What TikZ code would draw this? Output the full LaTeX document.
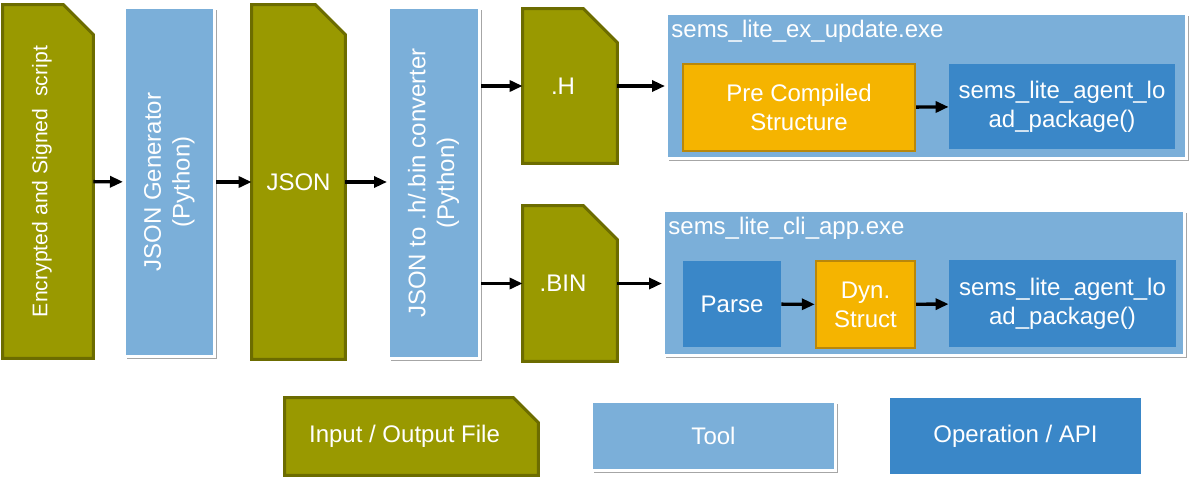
\documentclass[tikz,border=0pt]{standalone}
\usepackage{fontspec}
\setmainfont{Liberation Sans}
\usetikzlibrary{arrows.meta,shadows,backgrounds}
\definecolor{fileolive}{RGB}{153,153,0}
\definecolor{fileedge}{RGB}{108,108,0}
\definecolor{toolblue}{RGB}{123,175,217}
\definecolor{opblue}{RGB}{58,135,200}
\definecolor{structorange}{RGB}{245,180,0}
\definecolor{structedge}{RGB}{185,135,10}
\begin{document}
\begin{tikzpicture}[x=0.5pt, y=-0.5pt,
	txt/.style={text=white, font=\fontsize{12}{14.4}\selectfont, inner sep=0pt},
	file/.style={txt},
	tool/.style={txt, align=center, fill=toolblue, draw=white, line width=1.5pt, drop shadow={shadow xshift=1pt, shadow yshift=-1.2pt, opacity=0.35, fill=black}},
	op/.style={txt, align=center, fill=opblue},
	struct/.style={txt, align=center, fill=structorange, draw=structedge, line width=1.2pt},
	flow/.style={-{Triangle[length=6.5pt,width=5.5pt]}, line width=1.7pt}]
	\useasboundingbox (0,0) rectangle (1198,483);
	% files and tools
	\node[file, minimum width=45pt, minimum height=176.5pt, font=\fontsize{10.6}{12.5}\selectfont] (enc) at (48,181.5) {\rotatebox{90}{Encrypted and Signed\ \ script}\kern6pt};
	\node[tool, minimum width=45pt, minimum height=174.5pt] (gen) at (169.5,182) {\rotatebox{90}{\begin{tabular}{@{}c@{}}JSON Generator\\(Python)\end{tabular}}};
	\node[file, minimum width=46.5pt, minimum height=177pt] (json) at (298.5,182) {JSON};
	\node[tool, minimum width=45.5pt, minimum height=175.5pt] (conv) at (434,183) {\rotatebox{90}{\begin{tabular}{@{}c@{}}JSON to .h/.bin converter\\(Python)\end{tabular}}};
	\node[file, minimum width=47pt, minimum height=77pt] (hfile) at (570,86) {.H\kern7pt};
	\node[file, minimum width=47pt, minimum height=77.5pt] (binfile) at (570,283.5) {.BIN\kern7pt};
	% executables
	\node[tool, minimum width=260pt, minimum height=72.5pt] (box1) at (926.5,86) {};
	\node[txt, anchor=base west] (title1) at ([shift={(6,25.5)}]box1.north west) {sems\_lite\_ex\_update.exe};
	\node[struct, minimum width=116pt, minimum height=43.5pt] (pre) at (799,107.5) {Pre Compiled\\Structure};
	\node[op, minimum width=113pt, minimum height=42.5pt] (load1) at (1062,106.5) {sems\_lite\_agent\_lo\\ad\_package()};
	\node[tool, minimum width=260.5pt, minimum height=72.5pt] (box2) at (924,283) {};
	\node[txt, anchor=base west] (title2) at ([shift={(6,25.5)}]box2.north west) {sems\_lite\_cli\_app.exe};
	\node[op, minimum width=49pt, minimum height=43pt] (parse) at (732,304) {Parse};
	\node[struct, minimum width=49.5pt, minimum height=43.5pt] (dyn) at (865.5,304.5) {Dyn.\\Struct};
	\node[op, minimum width=113.5pt, minimum height=43.5pt] (load2) at (1062.5,303.5) {sems\_lite\_agent\_lo\\ad\_package()};
	% legend
	\node[file, minimum width=126.5pt, minimum height=38.5pt] (lgfile) at (411.5,436.5) {Input / Output File\kern7pt};
	\node[tool, minimum width=122pt, minimum height=34.5pt] (lgtool) at (713.5,436) {Tool};
	\node[op, minimum width=125.5pt, minimum height=38pt] (lgop) at (1015.5,436) {Operation / API};
	\begin{scope}[on background layer]
		\foreach \n/\c in {enc/30, json/30, hfile/34, binfile/34, lgfile/25}
			\draw[fill=fileolive, draw=fileedge, line width=1.5pt] (\n.south west) -- (\n.north west) -- ([shift={(-\c,0)}]\n.north east) -- ([shift={(0,\c)}]\n.north east) -- (\n.south east) -- cycle;
	\end{scope}
	% arrows
	\draw[flow] (enc) -- (gen);
	\draw[flow] (gen) -- (json);
	\draw[flow] (json) -- (conv.west |- json);
	\draw[flow] (conv.east |- hfile) -- (hfile);
	\draw[flow] (conv.east |- binfile) -- (binfile);
	\draw[flow] (hfile) -- (hfile -| box1.west);
	\draw[flow] (binfile) -- (binfile -| box2.west);
	\draw[flow] (pre) -- (load1);
	\draw[flow] (parse) -- (dyn);
	\draw[flow] (dyn) -- (load2);
\end{tikzpicture}
\end{document}
